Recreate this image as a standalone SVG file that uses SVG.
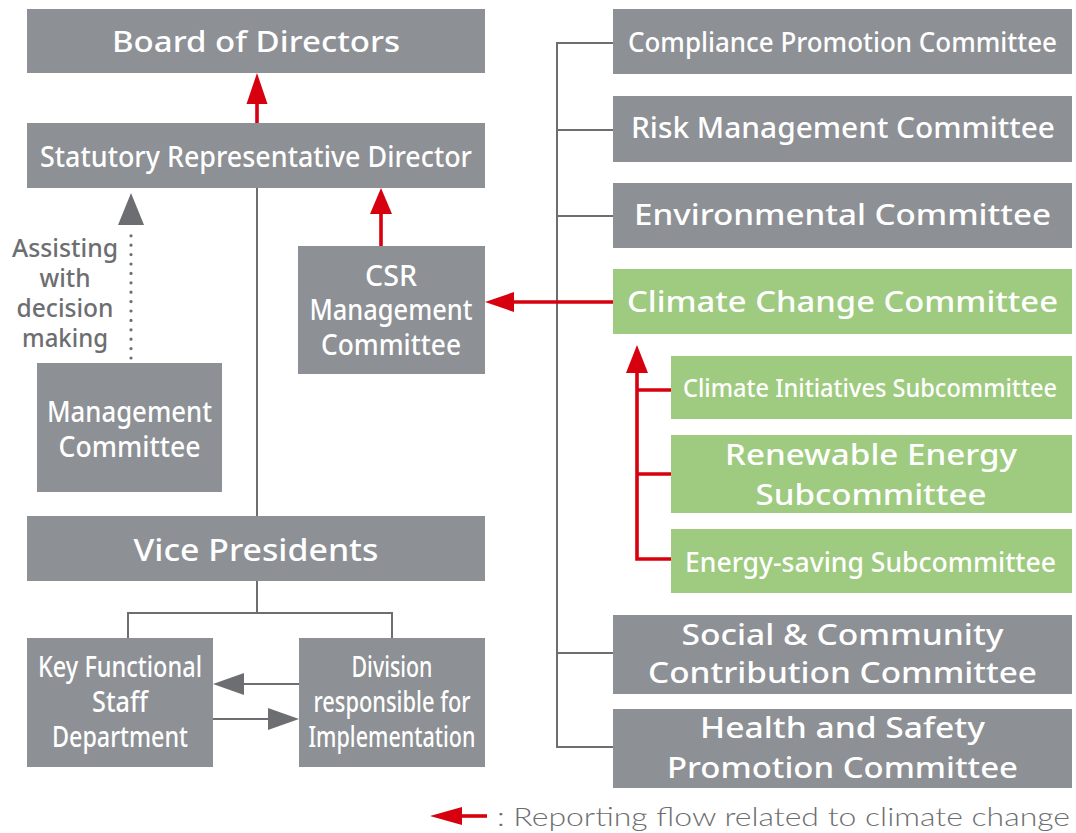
<svg xmlns="http://www.w3.org/2000/svg" width="1076" height="833" viewBox="0 0 1076 833">
<style>
  .g { fill: #8d9094; }
  .gr { fill: #9ecb7f; }
  .t { font-family: "Noto Sans", "Open Sans", "Liberation Sans", sans-serif; font-weight: 500; fill: #ffffff; text-anchor: middle; }
  .lbl { font-family: "Noto Sans", "Liberation Sans", sans-serif; font-weight: 500; fill: #6d6e71; text-anchor: middle; font-size: 26px; }
  .leg { font-family: "Lato", "Noto Sans", "Liberation Sans", sans-serif; font-weight: 300; fill: #6d6e71; font-size: 26px; }
  .ln { stroke: #6d6e71; stroke-width: 2; fill: none; }
  .dot { stroke: #6d6e71; stroke-width: 3.2; stroke-linecap: round; stroke-dasharray: 0 9.4; fill: none; }
  .rl { stroke: #d7000f; stroke-width: 3.6; fill: none; stroke-linejoin: miter; }
  .rh { fill: #d7000f; }
  .gh { fill: #6d6e71; }
</style>
<rect width="1076" height="833" fill="#ffffff"/>

<g id="connectors">
  <line class="ln" x1="257" y1="188" x2="257" y2="516"/>
  <path class="ln" d="M257,581 V613 M128,638 V613 H392 V638"/>
  <path class="ln" d="M613,43 H557 V747 H613 M557,130 H613 M557,216 H613 M557,653 H613"/>
  <line class="dot" x1="131" y1="358" x2="131" y2="230"/>
  <polygon class="gh" points="131,193 118,225 144,225"/>
  <line class="ln" x1="299" y1="684" x2="240" y2="684"/>
  <polygon class="gh" points="213,684 244,673 244,695"/>
  <line class="ln" x1="213" y1="719" x2="272" y2="719"/>
  <polygon class="gh" points="299,719 268,708 268,730"/>
  <line class="rl" x1="257" y1="123" x2="257" y2="100"/>
  <polygon class="rh" points="257,73 246.5,104 267.5,104"/>
  <line class="rl" x1="381" y1="246" x2="381" y2="210"/>
  <polygon class="rh" points="381,188 370,214 392,214"/>
  <line class="rl" x1="614" y1="302" x2="510" y2="302"/>
  <polygon class="rh" points="485,302 514,292 514,312"/>
  <path class="rl" d="M671,390 H637 M671,474 H637 M671,559 H637 V370"/>
  <polygon class="rh" points="637,345 626,373 648,373"/>
</g>

<g id="board">
  <rect class="g" x="27" y="9" width="458" height="64"/>
  <text class="t" x="256" y="52" font-size="29" textLength="288" lengthAdjust="spacingAndGlyphs">Board of Directors</text>
</g>
<g id="statutory">
  <rect class="g" x="27" y="123" width="458" height="65"/>
  <text class="t" x="256" y="167" font-size="28" textLength="432" lengthAdjust="spacingAndGlyphs">Statutory Representative Director</text>
</g>
<g id="csr">
  <rect class="g" x="298" y="246" width="187" height="128"/>
  <text class="t" font-size="28"><tspan x="391" y="286" textLength="52" lengthAdjust="spacingAndGlyphs">CSR</tspan><tspan x="391" y="320" textLength="163" lengthAdjust="spacingAndGlyphs">Management</tspan><tspan x="391" y="355" textLength="140" lengthAdjust="spacingAndGlyphs">Committee</tspan></text>
</g>
<g id="assisting-label">
  <text class="lbl"><tspan x="65" y="257" textLength="106" lengthAdjust="spacingAndGlyphs">Assisting</tspan><tspan x="65" y="287" textLength="51" lengthAdjust="spacingAndGlyphs">with</tspan><tspan x="65" y="317" textLength="97" lengthAdjust="spacingAndGlyphs">decision</tspan><tspan x="65" y="347" textLength="86" lengthAdjust="spacingAndGlyphs">making</tspan></text>
</g>
<g id="management">
  <rect class="g" x="37" y="363" width="185" height="129"/>
  <text class="t" font-size="28"><tspan x="129.5" y="422" textLength="165" lengthAdjust="spacingAndGlyphs">Management</tspan><tspan x="129.5" y="457" textLength="142" lengthAdjust="spacingAndGlyphs">Committee</tspan></text>
</g>
<g id="vice-presidents">
  <rect class="g" x="27" y="516" width="458" height="65"/>
  <text class="t" x="256" y="561" font-size="30" textLength="245" lengthAdjust="spacingAndGlyphs">Vice Presidents</text>
</g>
<g id="key-functional">
  <rect class="g" x="27" y="638" width="186" height="129"/>
  <text class="t" font-size="28"><tspan x="120" y="677" textLength="164" lengthAdjust="spacingAndGlyphs">Key Functional</tspan><tspan x="120" y="712" textLength="56" lengthAdjust="spacingAndGlyphs">Staff</tspan><tspan x="120" y="747" textLength="136" lengthAdjust="spacingAndGlyphs">Department</tspan></text>
</g>
<g id="division">
  <rect class="g" x="299" y="638" width="186" height="129"/>
  <text class="t" font-size="28"><tspan x="392" y="677" textLength="81" lengthAdjust="spacingAndGlyphs">Division</tspan><tspan x="392" y="712" textLength="157" lengthAdjust="spacingAndGlyphs">responsible for</tspan><tspan x="392" y="747" textLength="167" lengthAdjust="spacingAndGlyphs">Implementation</tspan></text>
</g>

<g id="compliance">
  <rect class="g" x="613" y="9" width="459" height="65"/>
  <text class="t" x="842.5" y="52" font-size="27" textLength="429" lengthAdjust="spacingAndGlyphs">Compliance Promotion Committee</text>
</g>
<g id="risk">
  <rect class="g" x="613" y="96" width="459" height="66"/>
  <text class="t" x="843" y="138" font-size="28" textLength="424" lengthAdjust="spacingAndGlyphs">Risk Management Committee</text>
</g>
<g id="environmental">
  <rect class="g" x="613" y="183" width="459" height="65"/>
  <text class="t" x="842.5" y="225" font-size="29" textLength="417" lengthAdjust="spacingAndGlyphs">Environmental Committee</text>
</g>
<g id="climate-change">
  <rect class="gr" x="613" y="269" width="459" height="65"/>
  <text class="t" x="842.5" y="312" font-size="29" textLength="431" lengthAdjust="spacingAndGlyphs">Climate Change Committee</text>
</g>
<g id="climate-initiatives">
  <rect class="gr" x="671" y="356" width="401" height="63"/>
  <text class="t" x="870" y="397" font-size="25" textLength="374" lengthAdjust="spacingAndGlyphs">Climate Initiatives Subcommittee</text>
</g>
<g id="renewable">
  <rect class="gr" x="671" y="435" width="401" height="78"/>
  <text class="t" font-size="29"><tspan x="871" y="465" textLength="292" lengthAdjust="spacingAndGlyphs">Renewable Energy</tspan><tspan x="871" y="505" textLength="231" lengthAdjust="spacingAndGlyphs">Subcommittee</tspan></text>
</g>
<g id="energy-saving">
  <rect class="gr" x="671" y="529" width="401" height="64"/>
  <text class="t" x="870.5" y="572" font-size="27" textLength="371" lengthAdjust="spacingAndGlyphs">Energy-saving Subcommittee</text>
</g>
<g id="social">
  <rect class="g" x="613" y="615" width="459" height="79"/>
  <text class="t" font-size="29"><tspan x="842.5" y="645" textLength="322" lengthAdjust="spacingAndGlyphs">Social &amp; Community</tspan><tspan x="842.5" y="683" textLength="389" lengthAdjust="spacingAndGlyphs">Contribution Committee</tspan></text>
</g>
<g id="health">
  <rect class="g" x="613" y="709" width="459" height="79"/>
  <text class="t" font-size="29"><tspan x="842.5" y="738" textLength="285" lengthAdjust="spacingAndGlyphs">Health and Safety</tspan><tspan x="842.5" y="778" textLength="351" lengthAdjust="spacingAndGlyphs">Promotion Committee</tspan></text>
</g>

<g id="legend">
  <line class="rl" x1="487" y1="816" x2="458" y2="816"/>
  <polygon class="rh" points="430,816 462,807 462,825"/>
  <text class="leg" x="497" y="826" textLength="573" lengthAdjust="spacingAndGlyphs">: Reporting flow related to climate change</text>
</g>
</svg>
